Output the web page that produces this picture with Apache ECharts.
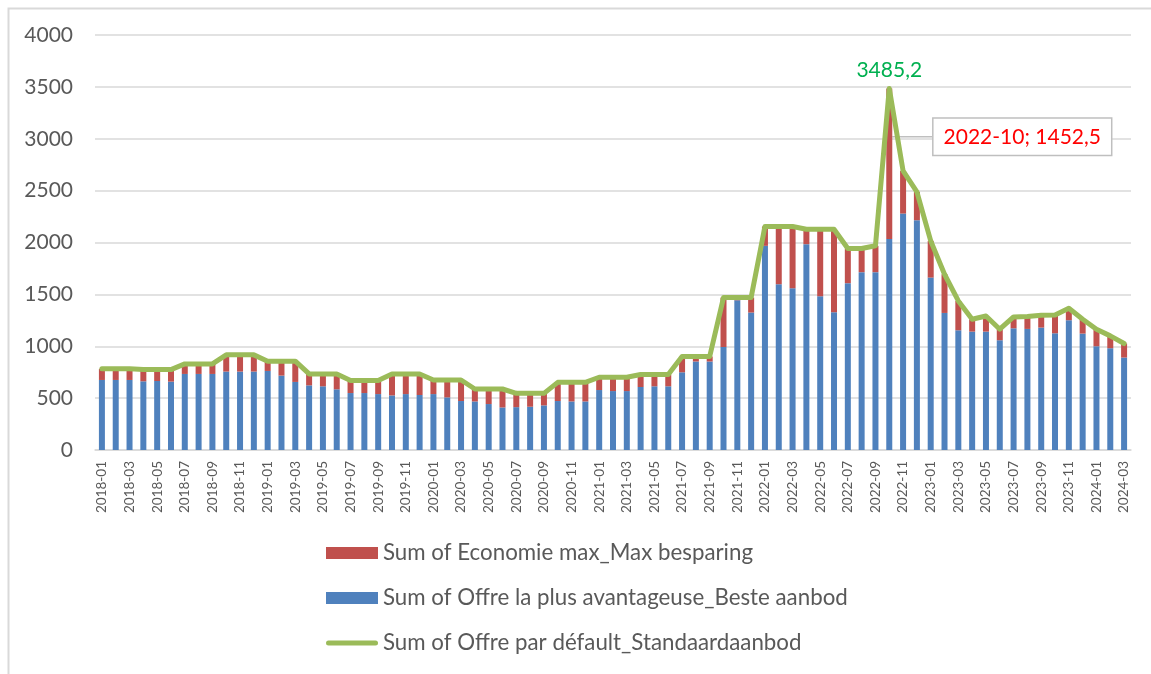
<!DOCTYPE html>
<html>
<head>
<meta charset="utf-8">
<script src="https://cdn.jsdelivr.net/npm/echarts@6/dist/echarts.min.js"></script>
<style>
  html, body { margin: 0; padding: 0; background: #fff; }
  #chart { width: 1151px; height: 674px; }
</style>
</head>
<body>
<div id="chart"></div>
<script>
// months 2018-01 .. 2024-03
var months = [
  "2018-01","2018-02","2018-03","2018-04","2018-05","2018-06","2018-07","2018-08","2018-09","2018-10","2018-11","2018-12",
  "2019-01","2019-02","2019-03","2019-04","2019-05","2019-06","2019-07","2019-08","2019-09","2019-10","2019-11","2019-12",
  "2020-01","2020-02","2020-03","2020-04","2020-05","2020-06","2020-07","2020-08","2020-09","2020-10","2020-11","2020-12",
  "2021-01","2021-02","2021-03","2021-04","2021-05","2021-06","2021-07","2021-08","2021-09","2021-10","2021-11","2021-12",
  "2022-01","2022-02","2022-03","2022-04","2022-05","2022-06","2022-07","2022-08","2022-09","2022-10","2022-11","2022-12",
  "2023-01","2023-02","2023-03","2023-04","2023-05","2023-06","2023-07","2023-08","2023-09","2023-10","2023-11","2023-12",
  "2024-01","2024-02","2024-03"
];

// Sum of Offre la plus avantageuse_Beste aanbod (blue)
var besteAanbod = [
  675, 675, 675, 662, 665, 659, 733, 733, 733, 756, 756, 756,
  762, 717, 656, 623, 614, 585, 549, 549, 539, 526, 539, 530,
  539, 507, 472, 468, 443, 410, 413, 417, 430, 472, 468, 468,
  578, 568, 568, 607, 614, 614, 749, 853, 853, 993, 1443, 1325,
  1968, 1598, 1559, 1984, 1482, 1328, 1608, 1714, 1714, 2032.7, 2279, 2215,
  1662, 1321, 1154, 1141, 1141, 1058, 1173, 1167, 1180, 1125, 1251, 1122,
  1000, 981, 891
];

// Sum of Economie max_Max besparing (red)
var maxBesparing = [
  107, 107, 107, 113, 110, 116, 97, 97, 97, 161, 161, 161,
  94, 139, 200, 110, 119, 148, 120, 120, 130, 207, 194, 203,
  136, 168, 203, 120, 145, 178, 133, 129, 116, 180, 184, 184,
  123, 133, 133, 120, 113, 113, 152, 48, 48, 476, 26, 144,
  186, 556, 595, 144, 646, 800, 334, 228, 254, 1452.5, 412, 273,
  354, 373, 283, 119, 151, 106, 110, 119, 119, 177, 115, 138,
  164, 119, 135
];

// Sum of Offre par défault_Standaardaanbod (green line)
var standaardAanbod = [
  782, 782, 782, 775, 775, 775, 830, 830, 830, 917, 917, 917,
  856, 856, 856, 733, 733, 733, 669, 669, 669, 733, 733, 733,
  675, 675, 675, 588, 588, 588, 546, 546, 546, 652, 652, 652,
  701, 701, 701, 727, 727, 727, 901, 901, 901, 1469, 1469, 1469,
  2154, 2154, 2154, 2128, 2128, 2128, 1942, 1942, 1968, 3485.2, 2691, 2488,
  2016, 1694, 1437, 1260, 1292, 1164, 1283, 1286, 1299, 1302, 1366, 1260,
  1164, 1100, 1026
];

var yTicks = { min: 0, max: 4000, interval: 500 };
var peakIdx = 57; // 2022-10

var nameRed = "Sum of Economie max_Max besparing";
var nameBlue = "Sum of Offre la plus avantageuse_Beste aanbod";
var nameGreen = "Sum of Offre par défault_Standaardaanbod";

function nl(v) { return String(v).replace(".", ","); }

var chart = echarts.init(document.getElementById("chart"));
var font = "Lato";
var option = {
  animation: false,
  backgroundColor: "#fff",
  textStyle: { fontFamily: font },
  graphic: [{
    type: "rect",
    left: 6, top: 6,
    shape: { width: 1300, height: 800 },
    style: { fill: "none", stroke: "#d9d9d9", lineWidth: 2 },
    silent: true
  }],
  grid: { left: 95, right: 20, top: 35, bottom: 224 },
  legend: {
    orient: "vertical",
    left: 321,
    top: 536,
    itemWidth: 52,
    itemHeight: 12,
    itemGap: 21,
    data: [
      { name: nameRed, icon: "rect" },
      { name: nameBlue, icon: "rect" },
      { name: nameGreen, icon: "path://M2.5,0 L49.5,0 A2.5,2.5 0 0 1 49.5,5 L2.5,5 A2.5,2.5 0 0 1 2.5,0 Z",
        itemStyle: { color: "#9bbb59" } }
    ],
    textStyle: { fontFamily: font, fontSize: 22.3, color: "#595959", lineHeight: 24 }
  },
  xAxis: {
    type: "category",
    data: months,
    boundaryGap: true,
    axisLine: { lineStyle: { color: "#d9d9d9", width: 1.5 } },
    axisTick: { show: false },
    axisLabel: { interval: 1, rotate: 90, margin: 11, fontFamily: font, fontSize: 13.5, color: "#595959" }
  },
  yAxis: {
    type: "value",
    min: yTicks.min, max: yTicks.max, interval: yTicks.interval,
    axisLine: { show: false },
    axisTick: { show: false },
    splitLine: { lineStyle: { color: "#d9d9d9", width: 1.5 } },
    axisLabel: { margin: 22, fontFamily: font, fontSize: 21, color: "#595959",
      formatter: function (v) { return String(v); } }
  },
  series: [
    {
      name: nameBlue,
      type: "bar",
      stack: "tot",
      barWidth: 6,
      itemStyle: { color: "#4f81bd" },
      data: besteAanbod
    },
    {
      name: nameRed,
      type: "bar",
      stack: "tot",
      barWidth: 6,
      itemStyle: { color: "#c0504d" },
      labelLine: { show: true, lineStyle: { color: "#bfbfbf", width: 1.5 } },
      labelLayout: function (p) {
        if (p.dataIndex === peakIdx) return { dx: 133, dy: -27 };
      },
      data: maxBesparing.map(function (v, i) {
        if (i !== peakIdx) return v;
        return {
          value: v,
          label: {
            show: true,
            position: "inside",
            formatter: months[i] + "; " + nl(v),
            fontFamily: font,
            fontSize: 21,
            color: "#ff0000",
            backgroundColor: "#fff",
            borderColor: "#bfbfbf",
            borderWidth: 1.5,
            padding: [8, 10, 7, 10]
          }
        };
      })
    },
    {
      name: nameGreen,
      type: "line",
      symbol: "circle",
      symbolSize: 0,
      showSymbol: true,
      z: 5,
      lineStyle: { color: "#9bbb59", width: 5, join: "round", cap: "round" },
      itemStyle: { color: "#9bbb59" },
      data: standaardAanbod.map(function (v, i) {
        if (i !== peakIdx) return v;
        return {
          value: v,
          label: {
            show: true,
            position: "top",
            distance: 8,
            formatter: nl(v),
            fontFamily: font,
            fontSize: 21,
            color: "#00b050"
          }
        };
      })
    }
  ]
};
chart.setOption(option);
</script>
</body>
</html>
